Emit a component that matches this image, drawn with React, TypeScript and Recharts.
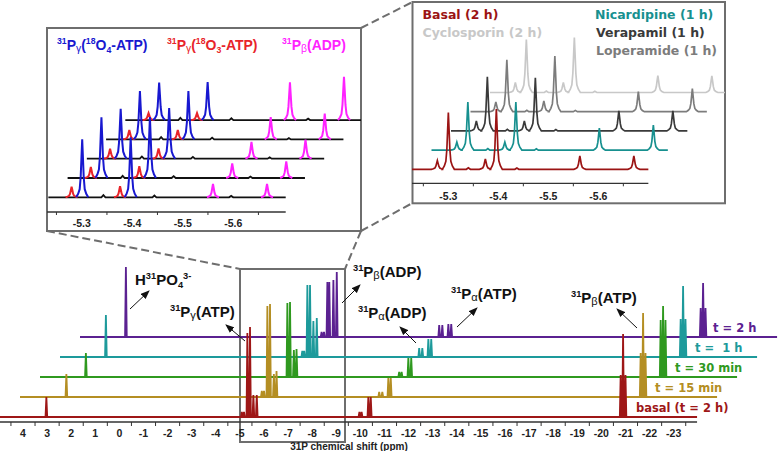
import { LineChart, Line, XAxis, YAxis, ReferenceLine } from 'recharts';

type Peak = [number, number]; // [ppm, height]
type Pt = { x: number; y: number | null };

// ---------- main 31P spectra, stacked by time ----------
const TIME_LABELS = ['basal (t = 2 h)', 't = 15 min', 't = 30 min', 't =  1 h', 't = 2 h'];
const TIME_COLORS = ['#9e1717', '#b48e23', '#2f991f', '#1d9a9b', '#5b2191'];

const basalPeaks: Peak[] = [
  [3.03, 20], [-5.08, 5], [-5.17, 5], [-5.31, 84], [-5.42, 90], [-5.56, 22], [-5.7, 22],
  [-9.96, 5], [-10.05, 5], [-10.33, 20], [-10.43, 20], [-20.8, 42], [-20.9, 83], [-21.0, 42],
];
const min15Peaks: Peak[] = [
  [3.03, 23], [-5.08, 6], [-5.17, 6], [-5.31, 91], [-5.42, 93], [-5.58, 23], [-5.69, 26],
  [-9.95, 5], [-10.08, 5], [-10.33, 19], [-10.43, 19], [-20.8, 44], [-20.9, 84], [-21.0, 44],
];
const min30Peaks: Peak[] = [
  [3.05, 24], [-5.31, 74], [-5.42, 75], [-5.58, 27], [-5.69, 28],
  [-9.95, 5], [-10.05, 5], [-10.33, 19], [-10.45, 19], [-20.8, 57], [-20.9, 71], [-21.0, 57],
];
const h1Peaks: Peak[] = [
  [3.05, 42], [-5.1, 6], [-5.18, 6], [-5.31, 72], [-5.42, 72], [-5.56, 36], [-5.7, 39],
  [-9.95, 9], [-10.08, 9], [-10.33, 18], [-10.45, 18], [-20.8, 38], [-20.9, 71], [-21.0, 38],
];
const h2Peaks: Peak[] = [
  [3.05, 70], [-5.07, 5], [-5.17, 5], [-5.31, 55], [-5.39, 55], [-5.56, 57], [-5.7, 65],
  [-9.95, 12], [-10.08, 12], [-10.33, 13], [-10.45, 13], [-20.8, 29], [-20.9, 54], [-21.0, 29],
];
const TIME_PEAKS = [basalPeaks, min15Peaks, min30Peaks, h1Peaks, h2Peaks];

const MAIN_TICKS = [4, 3, 2, 1, 0, -1, -2, -3, -4, -5, -6, -7, -8, -9, -10, -11, -12, -13, -14,
  -15, -16, -17, -18, -19, -20, -21, -22, -23];
const MAIN_MINOR = [...MAIN_TICKS.map((t) => t + 0.5), -23.5];

// ---------- left inset: 18O labelled gamma-ATP, zoom ----------
const LEFT_PPM = [-5.28, -5.301, -5.376, -5.397, -5.56, -5.667];
const LEFT_PEAK_COLORS = ['#e8242a', '#1818d0', '#e8242a', '#1818d0', '#ff22ff', '#ff22ff'];
const LEFT_HEIGHTS = [
  [10.6, 58, 11, 60, 13.3, 13.3],
  [11, 60.7, 11.7, 61, 14.7, 16.7],
  [10, 50, 10.3, 50.7, 16.7, 19],
  [9.3, 48.3, 9.3, 48.3, 22.3, 25.7],
  [7, 37.5, 7, 38, 37.7, 43.3],
];
const LEFT_BUMPS: Peak[] = [[-5.343, 2.2], [-5.444, 1.8], [-5.596, 1.4]];

// ---------- right inset: inhibitors ----------
const RIGHT_NAMES = ['Basal (2 h)', 'Nicardipine (1 h)', 'Verapamil (1 h)', 'Loperamide (1 h)', 'Cyclosporin (2 h)'];
const RIGHT_COLORS = ['#9b1414', '#17908f', '#3a3a3a', '#7c7c7c', '#c8c8c8'];
const RIGHT_PPM = [-5.278, -5.3, -5.374, -5.396, -5.563, -5.671];
const RIGHT_HEIGHTS = [
  [8.7, 56.7, 10.3, 60.3, 13.3, 13.3],
  [8, 48, 8, 48, 22, 25],
  [10, 54, 10, 53, 20, 20],
  [9.7, 52, 10.7, 55.7, 20, 23],
  [10, 53, 10, 55, 17, 16.7],
];
const RIGHT_BUMPS: Peak[] = [[-5.34, 1.5], [-5.437, 1.3]];

const INSET_TICKS = [-5.3, -5.4, -5.5, -5.6];
const INSET_MINOR = [-5.25, -5.35, -5.45, -5.55, -5.65];

// lineshape used for the expanded insets (offset ppm, fraction of height)
const PROFILE: Peak[] = [
  [0.012, 0], [0.008, 0.06], [0.005, 0.14], [0.003, 0.35], [0.0015, 0.68], [0, 1],
  [-0.0015, 0.68], [-0.003, 0.35], [-0.005, 0.14], [-0.008, 0.06], [-0.012, 0],
];

const ARIAL = "'Liberation Sans', Arial, sans-serif";
const VERDANA = "'DejaVu Sans', Verdana, sans-serif";

// main: 24.1 px per ppm, traces offset 20 px right / 20 px up
const MAIN_DOMAIN: [number, number] = [-27.37, 4.954];
const MAIN_RANGE = [4.954, -23.97];
const MAIN_DX = 0.83;
const MAIN_DY = 20;
const MAIN_BASE = 5;
const SPIKE = 0.035;

const L_DOMAIN: [number, number] = [-5.8531, -5.2313];
const L_RANGE = [-5.234, -5.704];
const L_DX = 0.0381;
const L_DY = 19.3;
const L_BASE = 14.7;

const R_DOMAIN: [number, number] = [-5.8533, -5.2273];
const R_RANGE = [-5.2273, -5.7];
const R_DX = 0.039;
const R_DY = 19.2;
const R_BASE = 14;

const mainTrace = (peaks: Peak[], k: number): Pt[] => {
  const base = MAIN_BASE + k * MAIN_DY;
  const dx = k * MAIN_DX;
  const pts: Pt[] = [{ x: MAIN_RANGE[0] - dx, y: base }];
  [...peaks].sort((a, b) => b[0] - a[0]).forEach(([p, h]) => {
    pts.push({ x: p + SPIKE - dx, y: base }, { x: p - dx, y: base + h }, { x: p - SPIKE - dx, y: base });
  });
  pts.push({ x: MAIN_RANGE[1] - dx, y: base });
  return pts;
};

const shape = (p: number, h: number, base: number, dx: number): Pt[] =>
  PROFILE.map(([o, f]) => ({ x: p + o - dx, y: base + f * h }));

const baseline = (range: number[], bumps: Peak[], base: number, dx: number): Pt[] => {
  const pts: Pt[] = [{ x: range[0] - dx, y: base }];
  bumps.forEach(([p, h]) => {
    pts.push({ x: p + 0.004 - dx, y: base }, { x: p - dx, y: base + h }, { x: p - 0.004 - dx, y: base });
  });
  pts.push({ x: range[1] - dx, y: base });
  return pts;
};

const leftColorSegments = (k: number, color: string): Pt[] => {
  const base = L_BASE + k * L_DY;
  const dx = k * L_DX;
  const pts: Pt[] = [];
  LEFT_PPM.forEach((p, i) => {
    if (LEFT_PEAK_COLORS[i] !== color) return;
    if (pts.length) pts.push({ x: p + 0.02 - dx, y: null });
    pts.push(...shape(p, LEFT_HEIGHTS[k][i], base, dx));
  });
  return pts;
};

const rightTrace = (k: number): Pt[] => {
  const base = R_BASE + k * R_DY;
  const dx = k * R_DX;
  const items: Peak[] = RIGHT_PPM.map((p, i) => [p, RIGHT_HEIGHTS[k][i]] as Peak);
  const pts: Pt[] = [{ x: R_RANGE[0] - dx, y: base }];
  const all = [...items.map((it) => ({ it, big: true })), ...RIGHT_BUMPS.map((it) => ({ it, big: false }))]
    .sort((a, b) => b.it[0] - a.it[0]);
  all.forEach(({ it, big }) => {
    if (big) pts.push(...shape(it[0], it[1], base, dx));
    else pts.push({ x: it[0] + 0.004 - dx, y: base }, { x: it[0] - dx, y: base + it[1] }, { x: it[0] - 0.004 - dx, y: base });
  });
  pts.push({ x: R_RANGE[1] - dx, y: base });
  return pts;
};

const makeTick = (majors: number[], dyText: number, size: number, len: number, fmt: (v: number) => string) =>
  (props: any) => {
    const { x, y, payload } = props;
    const v = payload.value as number;
    if (majors.some((m) => Math.abs(m - v) < 1e-6)) {
      return (
        <text x={x} y={y + dyText} textAnchor="middle" fontFamily={ARIAL} fontWeight="bold" fontSize={size} fill="#222">
          {fmt(v)}
        </text>
      );
    }
    return <line x1={x} y1={y} x2={x} y2={y + len} stroke="#333" strokeWidth={1} />;
  };

const mainTick = makeTick(MAIN_TICKS, 15, 10.5, 4, (v) => String(v));
const insetTickL = makeTick(INSET_TICKS, 14.7, 10.5, 3, (v) => v.toFixed(1));
const insetTickR = makeTick(INSET_TICKS, 17, 10.5, 3, (v) => v.toFixed(1));

type Part = [string, 'n' | 'sup' | 'sub' | 'g'];

function Chem({ x, y, size, fill, parts }: { x: number; y: number; size: number; fill: string; parts: Part[] }) {
  let cur = 0;
  return (
    <text x={x} y={y} fontSize={size} fontWeight="bold" fill={fill} fontFamily={ARIAL}>
      {parts.map(([t, k], i) => {
        const off = k === 'sup' ? -0.4 * size : k === 'sub' ? 0.22 * size : k === 'g' ? 0.16 * size : 0;
        const fs = k === 'n' ? size : k === 'g' ? size * 0.74 : size * 0.62;
        const dy = off - cur;
        cur = off;
        return (
          <tspan key={i} dy={dy} fontSize={fs} fontWeight={k === 'g' ? 'normal' : 'bold'}>
            {t}
          </tspan>
        );
      })}
    </text>
  );
}

const MAIN_NOTES: { x: number; y: number; parts: Part[] }[] = [
  { x: 135, y: 285, parts: [['H', 'n'], ['31', 'sup'], ['PO', 'n'], ['4', 'sub'], ['3-', 'sup']] },
  { x: 170, y: 317, parts: [['31', 'sup'], ['P', 'n'], ['γ', 'g'], ['(ATP)', 'n']] },
  { x: 353, y: 277, parts: [['31', 'sup'], ['P', 'n'], ['β', 'g'], ['(ADP)', 'n']] },
  { x: 358, y: 318, parts: [['31', 'sup'], ['P', 'n'], ['α', 'g'], ['(ADP)', 'n']] },
  { x: 451, y: 299, parts: [['31', 'sup'], ['P', 'n'], ['α', 'g'], ['(ATP)', 'n']] },
  { x: 571, y: 303, parts: [['31', 'sup'], ['P', 'n'], ['β', 'g'], ['(ATP)', 'n']] },
];

const ARROWS = [
  [130, 309, 149, 291],
  [245, 341, 226, 325],
  [342, 303, 360, 285],
  [416, 343, 400, 327],
  [457, 327, 477, 308],
  [637, 328, 617, 309],
];

const TIME_LABEL_POS = [
  [636, 411.5], [655, 391.7], [675, 371.7], [695, 351.7], [713, 331.7],
];

const LEFT_NOTES: { x: number; fill: string; parts: Part[] }[] = [
  { x: 57, fill: '#1818d0', parts: [['31', 'sup'], ['P', 'n'], ['γ', 'g'], ['(', 'n'], ['18', 'sup'], ['O', 'n'], ['4', 'sub'], ['-ATP)', 'n']] },
  { x: 167, fill: '#e8242a', parts: [['31', 'sup'], ['P', 'n'], ['γ', 'g'], ['(', 'n'], ['18', 'sup'], ['O', 'n'], ['3', 'sub'], ['-ATP)', 'n']] },
  { x: 282, fill: '#ff22ff', parts: [['31', 'sup'], ['P', 'n'], ['β', 'g'], ['(ADP)', 'n']] },
];

const RIGHT_LABEL_POS = [
  [422.5, 19.3], [595, 19.3], [596, 37.3], [596, 55], [422.5, 37.3],
];

function MainChart() {
  const order = [4, 3, 2, 1, 0];
  return (
    <LineChart width={779} height={451} margin={{ top: 0, right: 0, bottom: 0, left: 0 }}>
      <XAxis type="number" dataKey="x" domain={MAIN_DOMAIN} reversed allowDataOverflow
        ticks={[...MAIN_TICKS, ...MAIN_MINOR]} interval={0} tick={mainTick} tickLine={false}
        axisLine={false} tickSize={0} tickMargin={0} height={29} />
      <YAxis type="number" hide domain={[0, 422]} allowDataOverflow width={0} />
      <ReferenceLine segment={[{ x: MAIN_RANGE[0], y: 0 }, { x: MAIN_RANGE[1], y: 0 }]}
        stroke="#333" strokeWidth={1.4} ifOverflow="visible" />
      {order.map((k) => (
        <Line key={k} data={mainTrace(TIME_PEAKS[k], k)} dataKey="y" name={TIME_LABELS[k]}
          stroke={TIME_COLORS[k]} strokeWidth={1.8} dot={false} activeDot={false}
          type="linear" isAnimationActive={false} />
      ))}
    </LineChart>
  );
}

function LeftInset() {
  const order = [4, 3, 2, 1, 0];
  const colors = ['#e8242a', '#1818d0', '#ff22ff'];
  return (
    <LineChart width={314} height={203} margin={{ top: 0, right: 0, bottom: 0, left: 0 }}>
      <XAxis type="number" dataKey="x" domain={L_DOMAIN} reversed allowDataOverflow
        ticks={[...INSET_TICKS, ...INSET_MINOR]} interval={0} tick={insetTickL} tickLine={false}
        axisLine={false} tickSize={0} tickMargin={0} height={19} />
      <YAxis type="number" hide domain={[0, 184]} allowDataOverflow width={0} />
      <ReferenceLine segment={[{ x: -5.2313, y: 0 }, { x: L_RANGE[1], y: 0 }]}
        stroke="#333" strokeWidth={1.3} ifOverflow="visible" />
      {order.flatMap((k) => [
        <Line key={`b${k}`} data={baseline(L_RANGE, LEFT_BUMPS, L_BASE + k * L_DY, k * L_DX)} dataKey="y"
          stroke="#111" strokeWidth={1.8} dot={false} activeDot={false} type="linear" isAnimationActive={false} />,
        ...colors.map((c) => (
          <Line key={`${c}${k}`} data={leftColorSegments(k, c)} dataKey="y" stroke={c} strokeWidth={2}
            dot={false} activeDot={false} type="linear" connectNulls={false} isAnimationActive={false} />
        )),
      ])}
    </LineChart>
  );
}

function RightInset() {
  const order = [4, 3, 2, 1, 0];
  return (
    <LineChart width={313} height={201} margin={{ top: 0, right: 0, bottom: 0, left: 0 }}>
      <XAxis type="number" dataKey="x" domain={R_DOMAIN} reversed allowDataOverflow
        ticks={[...INSET_TICKS, ...INSET_MINOR]} interval={0} tick={insetTickR} tickLine={false}
        axisLine={false} tickSize={0} tickMargin={0} height={19.7} />
      <YAxis type="number" hide domain={[0, 181.3]} allowDataOverflow width={0} />
      <ReferenceLine segment={[{ x: R_RANGE[0], y: 0 }, { x: R_RANGE[1], y: 0 }]}
        stroke="#333" strokeWidth={1.3} ifOverflow="visible" />
      {order.map((k) => (
        <Line key={k} data={rightTrace(k)} dataKey="y" name={RIGHT_NAMES[k]} stroke={RIGHT_COLORS[k]}
          strokeWidth={1.7} dot={false} activeDot={false} type="linear" isAnimationActive={false} />
      ))}
    </LineChart>
  );
}

const abs = (left: number, top: number): React.CSSProperties => ({ position: 'absolute', left, top });

export default function App() {
  const frame = '#6e6e6e';
  return (
    <div style={{ position: 'absolute', left: 0, top: 0, width: 779, height: 451, background: '#fff', overflow: 'hidden' }}>
      <svg width={779} height={451} style={abs(0, 0)}>
        <rect x={47} y={28} width={314} height={203} fill="none" stroke={frame} strokeWidth={2} />
        <rect x={412.5} y={2} width={312.5} height={201.3} fill="none" stroke={frame} strokeWidth={2} />
        <rect x={240} y={269} width={105} height={173} fill="none" stroke={frame} strokeWidth={2} />
        <g stroke={frame} strokeWidth={2} strokeDasharray="8 4" fill="none">
          <line x1={47} y1={231} x2={240} y2={269} />
          <line x1={361} y1={231} x2={345} y2={269} />
          <line x1={361} y1={28} x2={412.5} y2={2} />
          <line x1={361} y1={231} x2={412.5} y2={203} />
        </g>
      </svg>
      <div style={abs(0, 0)}><MainChart /></div>
      <div style={abs(47, 28)}><LeftInset /></div>
      <div style={abs(412, 2)}><RightInset /></div>
      <svg width={779} height={451} style={{ ...abs(0, 0), pointerEvents: 'none' }}>
        <defs>
          <marker id="ah" markerWidth={9} markerHeight={8} refX={8} refY={4} orient="auto" markerUnits="userSpaceOnUse">
            <path d="M0,0.5 L9,4 L0,7.5 z" fill="#111" />
          </marker>
        </defs>
        {ARROWS.map(([x1, y1, x2, y2], i) => (
          <line key={i} x1={x1} y1={y1} x2={x2} y2={y2} stroke="#111" strokeWidth={1} markerEnd="url(#ah)" />
        ))}
        {MAIN_NOTES.map((n, i) => (
          <Chem key={i} x={n.x} y={n.y} size={15} fill="#111" parts={n.parts} />
        ))}
        {TIME_LABELS.map((t, k) => (
          <text key={t} x={TIME_LABEL_POS[k][0]} y={TIME_LABEL_POS[k][1]} fontFamily={VERDANA} fontWeight="bold"
            fontSize={11.5} fill={TIME_COLORS[k]} style={{ whiteSpace: 'pre' }}>
            {t}
          </text>
        ))}
        <text x={349} y={450} textAnchor="middle" fontFamily={ARIAL} fontWeight="bold" fontSize={10} fill="#222">
          31P chemical shift (ppm)
        </text>
        {LEFT_NOTES.map((n, i) => (
          <Chem key={i} x={n.x} y={50} size={14} fill={n.fill} parts={n.parts} />
        ))}
        {RIGHT_NAMES.map((t, k) => (
          <text key={t} x={RIGHT_LABEL_POS[k][0]} y={RIGHT_LABEL_POS[k][1]} fontFamily={VERDANA} fontWeight="bold"
            fontSize={12.5} fill={RIGHT_COLORS[k]}>
            {t}
          </text>
        ))}
      </svg>
    </div>
  );
}
